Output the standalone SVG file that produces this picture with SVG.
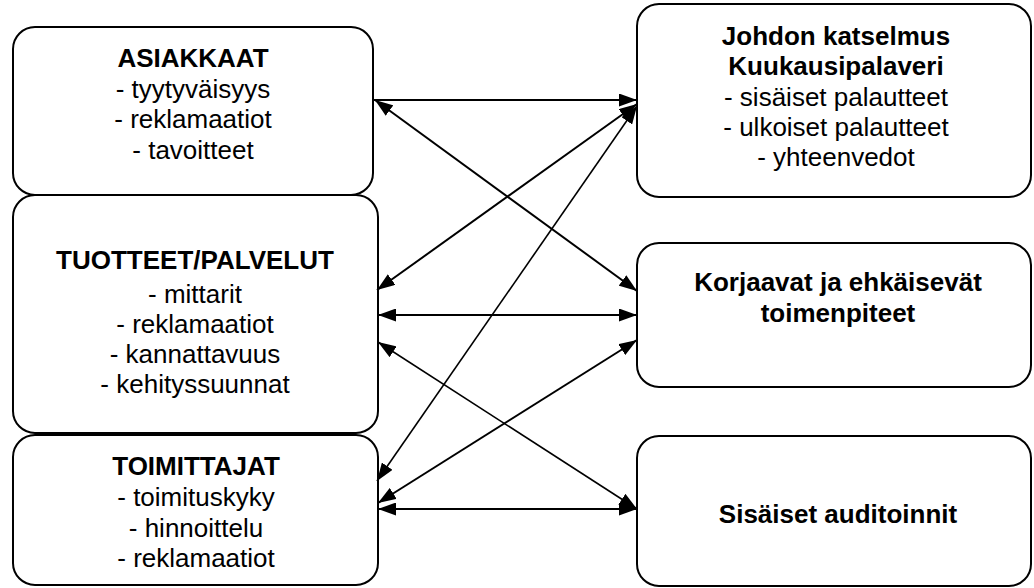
<svg xmlns="http://www.w3.org/2000/svg" width="1034" height="588" viewBox="0 0 1034 588">
<style>
.box{fill:#fff;stroke:#000;stroke-width:2}
text{font-family:"Liberation Sans",Arial,sans-serif;font-size:26px;fill:#000;text-anchor:middle}
.b{font-weight:bold}
.c{stroke:#000;stroke-width:2;fill:none}
.t{stroke-width:1.6}
</style>
<defs>
<marker id="ah" viewBox="0 0 18 13" refX="18" refY="6.5" markerWidth="18" markerHeight="13" markerUnits="userSpaceOnUse" orient="auto-start-reverse">
<path d="M0,0 L18,6.5 L0,13 z" fill="#000"/>
</marker>
</defs>
<rect width="1034" height="588" fill="#fff"/>
<g id="asiakkaat">
<rect class="box" x="13" y="27" width="360" height="168" rx="22"/>
<text x="193" y="67" class="b">ASIAKKAAT</text>
<text x="193" y="98">- tyytyväisyys</text>
<text x="193" y="128">- reklamaatiot</text>
<text x="193" y="159">- tavoitteet</text>
</g>
<g id="tuotteet">
<rect class="box" x="13" y="195" width="365" height="238" rx="22"/>
<text x="195" y="269" class="b">TUOTTEET/PALVELUT</text>
<text x="195" y="303">- mittarit</text>
<text x="195" y="333">- reklamaatiot</text>
<text x="195" y="363">- kannattavuus</text>
<text x="195" y="393">- kehityssuunnat</text>
</g>
<g id="toimittajat">
<rect class="box" x="13" y="435" width="365" height="150" rx="22"/>
<text x="196" y="475" class="b">TOIMITTAJAT</text>
<text x="196" y="506">- toimituskyky</text>
<text x="196" y="537">- hinnoittelu</text>
<text x="196" y="567">- reklamaatiot</text>
</g>
<g id="johdon">
<rect class="box" x="637" y="4" width="394" height="193" rx="22"/>
<text x="836" y="45" class="b">Johdon katselmus</text>
<text x="836" y="75" class="b">Kuukausipalaveri</text>
<text x="836" y="106">- sisäiset palautteet</text>
<text x="836" y="136">- ulkoiset palautteet</text>
<text x="836" y="166">- yhteenvedot</text>
</g>
<g id="korjaavat">
<rect class="box" x="637" y="243" width="394" height="144" rx="22"/>
<text x="838" y="291" class="b">Korjaavat ja ehkäisevät</text>
<text x="838" y="322" class="b">toimenpiteet</text>
</g>
<g id="sisaiset">
<rect class="box" x="637" y="436" width="394" height="150" rx="22"/>
<text x="838" y="523" class="b">Sisäiset auditoinnit</text>
</g>
<g id="connectors">
<line class="c" x1="373" y1="100" x2="637" y2="100" marker-end="url(#ah)"/>
<line class="c" x1="375" y1="100" x2="637" y2="291" marker-start="url(#ah)" marker-end="url(#ah)"/>
<line class="c" x1="377" y1="290" x2="637" y2="104" marker-start="url(#ah)" marker-end="url(#ah)"/>
<line class="c t" x1="377" y1="481" x2="637" y2="106" marker-start="url(#ah)" marker-end="url(#ah)"/>
<line class="c" x1="378" y1="315" x2="637" y2="315" marker-start="url(#ah)" marker-end="url(#ah)"/>
<line class="c t" x1="378" y1="342" x2="637" y2="509" marker-start="url(#ah)" marker-end="url(#ah)"/>
<line class="c" x1="378" y1="503" x2="637" y2="340" marker-start="url(#ah)" marker-end="url(#ah)"/>
<line class="c" x1="378" y1="509" x2="637" y2="509" marker-start="url(#ah)" marker-end="url(#ah)"/>
</g>
</svg>
